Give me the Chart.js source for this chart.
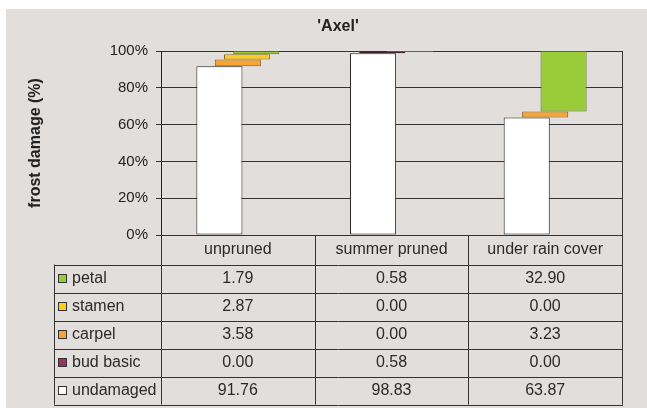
<!DOCTYPE html>
<html>
<head>
<meta charset="utf-8">
<script src="https://cdn.jsdelivr.net/npm/chart.js@4.4.1/dist/chart.umd.min.js"></script>
<style>
  html, body { margin: 0; padding: 0; background: #fff; }
  #box { position: absolute; left: 6px; top: 9px; width: 641px; height: 399px; background: #e2dedb; }
</style>
</head>
<body>
<div id="box"><canvas id="chart" width="641" height="399"></canvas></div>
<script>
// Categories (columns of the data table)
const categories = ["unpruned", "summer pruned", "under rain cover"];

// Series values in % (bottom to top of each waterfall)
const undamaged = [91.76, 98.83, 63.87];
const budBasic = [0.00, 0.58, 0.00];
const carpel = [3.58, 0.00, 3.23];
const stamen = [2.87, 0.00, 0.00];
const petal = [1.79, 0.58, 32.90];

// Y axis ticks
const yTicks = [0, 20, 40, 60, 80, 100];

const chartTitle = "'Axel'";
const yTitle = "frost damage (%)";

// series order on the chart, left to right inside a cluster
const series = [
  { name: "undamaged", values: undamaged, fill: "#ffffff", border: "#2a2a2a" },
  { name: "bud basic", values: budBasic, fill: "#993366", border: "#3a2030" },
  { name: "carpel", values: carpel, fill: "#f9a532", border: "#8a5a20" },
  { name: "stamen", values: stamen, fill: "#fccc1e", border: "#8a7020" },
  { name: "petal", values: petal, fill: "#9acc3a", border: "#566e26" },
];

const fontFamily = '"Liberation Sans", Arial, sans-serif';
Chart.defaults.font.family = fontFamily;
Chart.defaults.color = "#222";

// floating bars: every series starts where the previous one ended
const running = categories.map(() => 0);
const datasets = series.map(s => {
  const data = s.values.map((v, i) => {
    const start = running[i];
    running[i] += v;
    return v > 0 ? [start, start + v] : null;
  });
  return {
    label: s.name,
    data: data,
    backgroundColor: s.fill,
    borderColor: s.border,
    borderWidth: 1,
    borderSkipped: false,
  };
});

// title + data table underneath the plot
const tablePlugin = {
  id: "table",
  afterDraw(chart) {
    const ctx = chart.ctx;
    const ca = chart.chartArea;
    const xs = chart.scales.x;
    const colW = (ca.right - ca.left) / categories.length;
    const tableLeft = 48;
    const headH = 29.5;
    const rowH = 28;
    const rows = series.slice().reverse();
    const bottom = ca.bottom + headH + rowH * rows.length;

    ctx.save();
    // title
    ctx.fillStyle = "#222";
    ctx.font = "bold 16px " + fontFamily;
    ctx.textAlign = "center";
    ctx.textBaseline = "middle";
    ctx.fillText(chartTitle, (tableLeft + ca.right) / 2, 18);

    // plot area right border
    ctx.strokeStyle = "#333";
    ctx.lineWidth = 1;
    ctx.beginPath();
    ctx.moveTo(Math.round(ca.right) + 0.5, ca.top);
    ctx.lineTo(Math.round(ca.right) + 0.5, bottom);
    // column lines
    for (let i = 0; i < categories.length; i++) {
      const x = Math.round(ca.left + colW * i) + 0.5;
      ctx.moveTo(x, ca.bottom);
      ctx.lineTo(x, bottom);
    }
    ctx.moveTo(tableLeft + 0.5, ca.bottom + headH);
    ctx.lineTo(tableLeft + 0.5, bottom);
    // row lines
    for (let r = 0; r <= rows.length; r++) {
      const y = Math.round(ca.bottom + headH + rowH * r) + 0.5;
      ctx.moveTo(tableLeft, y);
      ctx.lineTo(ca.right + 1, y);
    }
    ctx.stroke();

    ctx.font = "16px " + fontFamily;
    ctx.fillStyle = "#2a2a2a";
    categories.forEach((c, i) => {
      ctx.fillText(c, xs.getPixelForValue(i), ca.bottom + headH / 2);
    });
    rows.forEach((s, r) => {
      const y = ca.bottom + headH + rowH * r + rowH / 2;
      // legend key
      ctx.fillStyle = s.fill;
      ctx.fillRect(52.5, Math.round(y) - 4.5, 8, 8);
      ctx.strokeStyle = "#333";
      ctx.strokeRect(52.5, Math.round(y) - 4.5, 8, 8);
      ctx.fillStyle = "#2a2a2a";
      ctx.textAlign = "left";
      ctx.fillText(s.name, 66, y);
      ctx.textAlign = "center";
      s.values.forEach((v, i) => {
        ctx.fillText(v.toFixed(2), xs.getPixelForValue(i), y);
      });
    });
    ctx.restore();
  },
};

new Chart(document.getElementById("chart"), {
  type: "bar",
  data: { labels: categories, datasets: datasets },
  options: {
    responsive: false,
    animation: false,
    devicePixelRatio: 1,
    layout: { padding: { left: 20, right: 25, top: 42, bottom: 173 } },
    datasets: { bar: { categoryPercentage: 0.3, barPercentage: 5 } },
    plugins: {
      legend: { display: false },
      tooltip: { enabled: false },
    },
    scales: {
      x: { display: false },
      y: {
        min: 0,
        max: 100,
        afterFit: s => { s.width = 135; },
        afterBuildTicks: s => { s.ticks = yTicks.map(v => ({ value: v })); },
        ticks: {
          callback: v => v + "%",
          padding: 8,
          color: "#222",
          font: { size: 15 },
        },
        grid: { color: "#333", lineWidth: 1, tickLength: 5 },
        border: { color: "#222" },
        title: {
          display: true,
          text: yTitle,
          color: "#222",
          font: { size: 16, weight: "bold" },
          padding: { top: 0, bottom: 0 },
        },
      },
    },
  },
  plugins: [tablePlugin],
});
</script>
</body>
</html>
